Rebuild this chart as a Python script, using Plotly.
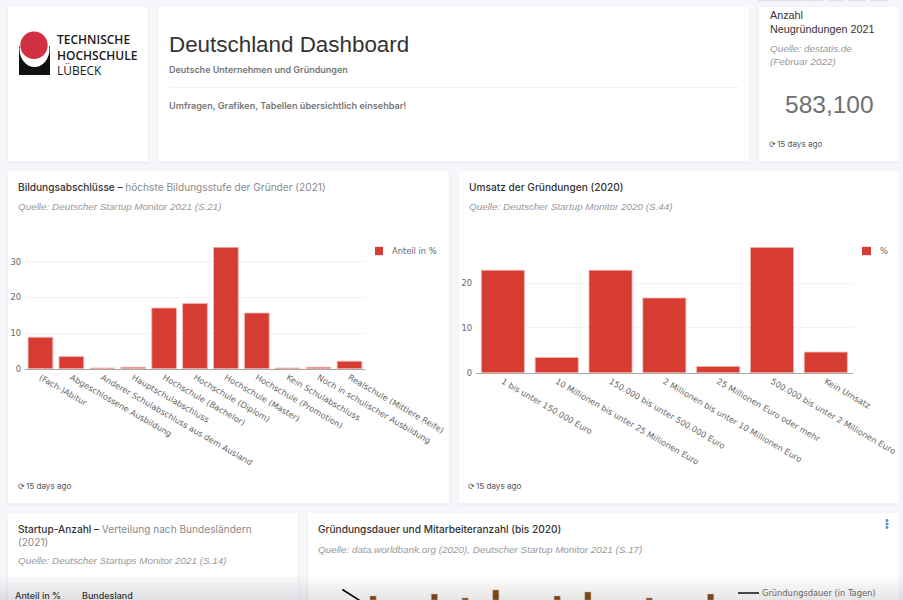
import plotly.graph_objects as go

W = 903
H = 600

# Bildungsabschluesse
edu_labels = ["(Fach-)Abitur", "Abgeschlossene Ausbildung", "Anderer Schulabschluss aus dem Ausland",
              "Hauptschulabschluss", "Hochschule (Bachelor)", "Hochschule (Diplom)", "Hochschule (Master)",
              "Hochschule (Promotion)", "Kein Schulabschluss", "Noch in schulischer Ausbildung",
              "Realschule (Mittlere Reife)"]
edu_values = [8.8, 3.4, 0.2, 0.4, 17.0, 18.3, 34.0, 15.6, 0.2, 0.4, 2.1]

# Umsatz
rev_labels = ["1 bis unter 150.000 Euro", "10 Millionen bis unter 25 Millionen Euro",
              "150.000 bis unter 500.000 Euro", "2 Millionen bis unter 10 Millionen Euro",
              "25 Millionen Euro oder mehr", "500.000 bis unter 2 Millionen Euro", "Kein Umsatz"]
rev_values = [22.9, 3.4, 22.9, 16.7, 1.4, 28.0, 4.6]

# Gruendungsdauer, only the top of this chart is on screen
dur_index = [0, 1]
dur_days = [10.5, -9]
staff_index = [1, 3, 4, 5, 7, 8, 10, 12]
staff_values = [4, 6, 2, 10, 4, 8, 2, 6]

tab_edges = [(758, 806), (807, 823), (827, 845), (848, 867), (870, 888)]

RED = "#d63c32"
BG = "#f4f6f9"
TICK = "#666666"
TICK_FONT = "DejaVu Sans"
UI_FONT = "Inter"
HEAD_FONT = "Liberation Sans"
GREY_SPAN = "<span style='color:#8a8a8a;font-weight:400'>%s</span>"


def px(x):
    return x / W


def py(y):
    return 1 - y / H


shapes = []
annotations = []


def rect(x0, y0, x1, y1, color, layer="below"):
    shapes.append(dict(type="rect", xref="paper", yref="paper", x0=px(x0), x1=px(x1), y0=py(y0), y1=py(y1),
                       fillcolor=color, line_width=0, layer=layer))


def ellipse(x0, y0, x1, y1, color):
    shapes.append(dict(type="circle", xref="paper", yref="paper", x0=px(x0), x1=px(x1), y0=py(y0), y1=py(y1),
                       fillcolor=color, line_width=0, layer="below"))


def label(x, y, text, size=10, color="#333333", anchor="left", font=UI_FONT, weight=400, style="normal"):
    # annotations keep about 1.5px of padding on their left side
    if anchor == "left":
        x = x - 1.5
    annotations.append(dict(xref="paper", yref="paper", x=px(x), y=py(y), text=text, showarrow=False,
                            xanchor=anchor, yanchor="middle", align=anchor, borderpad=0,
                            font=dict(family=font, size=size, color=color, weight=weight, style=style)))


def title(x, y, text):
    label(x, y, text, size=10.15, color="#333333", weight=500)


def source(x, y, text):
    label(x, y, text, size=9.9, color="#999999", font=HEAD_FONT, style="italic")


def card(x0, y0, x1, y1):
    rect(x0 - 1, y0 + 1, x1 + 1, y1 + 3, "#eff1f4")
    rect(x0, y0, x1, y1, "#ffffff")


def updated(x, y):
    label(x, y, "⟳", size=8, color="#555555", font=TICK_FONT)
    label(x + 8, y, "15 days ago", size=8.1, color="#555555")


def swatch(x0, x1, y, text, text_x):
    rect(x0, y - 4.2, x1, y + 4.2, RED)
    label(text_x, y, text, size=8.3, color=TICK, font=TICK_FONT)


card(8, 7, 148, 161)
card(158, 7, 749, 161)
card(759, 7, 899, 161)
card(8, 171, 449, 503)
card(459, 171, 899, 503)
card(8, 513, 298, 605)
card(308, 513, 899, 605)

for a, b in tab_edges:
    rect(a, 0, b, 1.2, "#dde1e6")

# logo
rect(19, 46, 50, 75, "#111111")
ellipse(19.5, 31, 49.5, 67, "#ffffff")
ellipse(20.3, 31.5, 47.7, 58.9, "#d12f42")
label(57, 55, "TECHNISCHE<br>HOCHSCHULE<br><span style='font-weight:400'>LÜBECK</span>", size=12,
      color="#1a1a1a", font="Open Sans", weight=600)

# header
label(169, 44, "Deutschland Dashboard", size=22.4, color="#333333", font=HEAD_FONT)
label(169, 69, "Deutsche Unternehmen und Gründungen", size=9, color="#777777", weight=600)
rect(169, 87, 739, 87.7, "#eeeeee")
label(169, 106, "Umfragen, Grafiken, Tabellen übersichtlich einsehbar!", size=9.1, color="#777777", weight=600)

# kpi
label(770, 22, "Anzahl<br>Neugründungen 2021", size=10.8, font=HEAD_FONT)
source(770, 55, "Quelle: destatis.de<br>(Februar 2022)")
label(829, 104, "583,100", size=24.5, color="#707070", anchor="center", font=HEAD_FONT)
updated(769, 144)

# chart headers
title(18.5, 187, "Bildungsabschlüsse – " + GREY_SPAN % "höchste Bildungsstufe der Gründer (2021)")
source(18.5, 207, "Quelle: Deutscher Startup Monitor 2021 (S.21)")
updated(18, 486)
title(469, 187, "Umsatz der Gründungen (2020)")
source(469, 207, "Quelle: Deutscher Startup Monitor 2020 (S.44)")
updated(469, 486)
title(18.5, 535, "Startup-Anzahl – " + GREY_SPAN % "Verteilung nach Bundesländern" + "<br>" + GREY_SPAN % "(2021)")
source(18.5, 560, "Quelle: Deutscher Startups Monitor 2021 (S.14)")
rect(8, 577, 298, 605, "#f8f9fa")
label(15, 595, "Anteil in %", size=9, weight=500)
label(82, 595, "Bundesland", size=9, weight=500)
title(318.5, 529, "Gründungsdauer und Mitarbeiteranzahl (bis 2020)")
source(318.5, 549, "Quelle: data.worldbank.org (2020), Deutscher Startup Monitor 2021 (S.17)")

# three dot menu
for dot_y in [520.5, 524, 527.5]:
    ellipse(885.5, dot_y - 1.4, 888.5, dot_y + 1.4, "#4a90e2")

# legends
swatch(375, 383, 251, "Anteil in %", 392)
swatch(862, 871, 251, "%", 880)
rect(738, 592.3, 759, 593.7, "#111111")
label(762, 593, "Gründungsdauer (in Tagen)", size=8.3, color=TICK, font=TICK_FONT)

# the page fades out towards the lower edge
for i in range(25):
    rect(0, 575 + i, W, H, "rgba(0,0,0,0.0055)", layer="above")

fig = go.Figure()
fig.add_trace(go.Bar(x=edu_labels, y=edu_values, name="Anteil in %", marker=dict(color=RED, line=dict(color="#f3b6b0", width=0.8)),
                     xaxis="x", yaxis="y"))
fig.add_trace(go.Bar(x=rev_labels, y=rev_values, name="%", marker=dict(color=RED, line=dict(color="#f3b6b0", width=0.8)),
                     xaxis="x2", yaxis="y2"))
fig.add_trace(go.Bar(x=staff_index, y=staff_values, name="Mitarbeiteranzahl", width=0.2,
                     marker=dict(color="#8f5a2c", line=dict(color="#d9bfa8", width=0.5)),
                     xaxis="x3", yaxis="y3"))
fig.add_trace(go.Scatter(x=dur_index, y=dur_days, name="Gründungsdauer (in Tagen)", mode="lines",
                         line=dict(color="#111111", width=1.5), xaxis="x3", yaxis="y3"))

ticks = dict(tickfont=dict(family=TICK_FONT, size=8.3, color=TICK))
xbase = dict(showgrid=False, ticks="", showline=True, linecolor="#a8a8a8", linewidth=1, tickangle=30, zeroline=False, **ticks)
ybase = dict(showgrid=True, gridcolor="#f3f3f3", gridwidth=1, zeroline=False, ticks="", showline=False,
             ticklabelstandoff=3, **ticks)

fig.update_layout(
    width=W, height=H, margin=dict(l=0, r=0, t=0, b=0, autoexpand=False), autosize=False,
    paper_bgcolor=BG, plot_bgcolor="rgba(0,0,0,0)", bargap=0.2, showlegend=False,
    xaxis=dict(domain=[px(25), px(365)], **xbase),
    yaxis=dict(domain=[py(368.7), py(247)], range=[0, 34.1], tickvals=[0, 10, 20, 30], anchor="x", **ybase),
    xaxis2=dict(domain=[px(476), px(852.7)], anchor="y2", **xbase),
    yaxis2=dict(domain=[py(372.7), py(247)], range=[0, 28.1], tickvals=[0, 10, 20], anchor="x2", **ybase),
    xaxis3=dict(domain=[px(327), px(726)], range=[-0.5, 12.5], anchor="y3", visible=False),
    yaxis3=dict(domain=[0, py(575)], range=[0, 25], anchor="x3", visible=False),
    shapes=shapes, annotations=annotations,
)

fig.write_html("out.html", config=dict(displayModeBar=False),
               post_script="document.body.style.margin='0';document.body.style.overflow='hidden';")
